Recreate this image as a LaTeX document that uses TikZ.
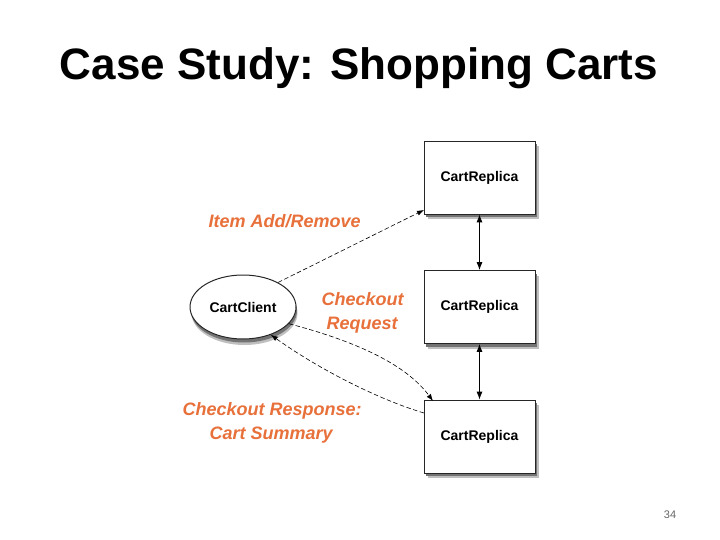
\documentclass[tikz,border=0pt]{standalone}
\usepackage{fontspec}
\setmainfont{Liberation Sans}
\usetikzlibrary{arrows.meta,shadows,shapes.geometric}
\definecolor{lab}{HTML}{E8703A}
\begin{document}
\begin{tikzpicture}[x=1pt,y=-1pt,
  replica/.style={draw=black!85,line width=0.8pt,fill=white,minimum width=111pt,minimum height=73pt,inner sep=0pt,
    font=\fontsize{14}{16}\selectfont\bfseries,
    general shadow={fill=black!25,shadow xshift=3.5pt,shadow yshift=-5pt},
    general shadow={fill=black!55,shadow xshift=2pt,shadow yshift=-3pt}},
  client/.style={ellipse,draw=black!85,line width=1pt,fill=white,minimum width=106pt,minimum height=64pt,inner sep=0pt,
    font=\fontsize{14}{16}\selectfont\bfseries,
    general shadow={fill=black!25,shadow xshift=1.5pt,shadow yshift=-6pt},
    general shadow={fill=black!55,shadow xshift=1pt,shadow yshift=-3.5pt}},
  lbl/.style={text=lab,font=\fontsize{18}{24}\selectfont\bfseries\itshape,align=left},
  flow/.style={dash pattern=on 4.5pt off 2.5pt,line width=0.6pt,-{Latex[length=7pt,width=5pt]}},
  sync/.style={line width=0.8pt,{Latex[length=8pt,width=6pt]}-{Latex[length=8pt,width=6pt]}}]
\useasboundingbox (0,0) rectangle (720,540);
\fill[white] (0,0) rectangle (720,540);
\node (title) at (359,68) {\fontsize{44}{50}\selectfont\bfseries Case Study: Shopping Carts};
\node[replica] (r1) at (479.5,177.5) {CartReplica};
\node[replica] (r2) at (479.5,307) {CartReplica};
\node[replica] (r3) at (479.5,436.5) {CartReplica};
\node[client] (c) at (243,307) {CartClient};
\draw[sync] (r1.south) -- (r2.north);
\draw[sync] (r2.south) -- (r3.north);
\coordinate (r1c) at (424,210);
\coordinate (r3c) at (433,401);
\coordinate (r3l) at (424,413);
\draw[flow] (c.35) -- (r1c);
\draw[flow] (c.-20) .. controls (370,345) and (410,370) .. (r3c);
\draw[flow] (r3l) .. controls (380,400) and (320,370) .. (c.-45);
\node[lbl,anchor=west] (l1) at (205,221) {Item Add/Remove};
\node[lbl,anchor=west] (l2) at (318,313) {Checkout\\\hspace*{5pt}Request};
\node[lbl,anchor=west] (l3) at (179,423) {Checkout Response:\\\hspace*{27pt}Cart Summary};
\node[text=black!60,font=\fontsize{11}{13}\selectfont] (pg) at (670,515) {34};
\end{tikzpicture}
\end{document}
